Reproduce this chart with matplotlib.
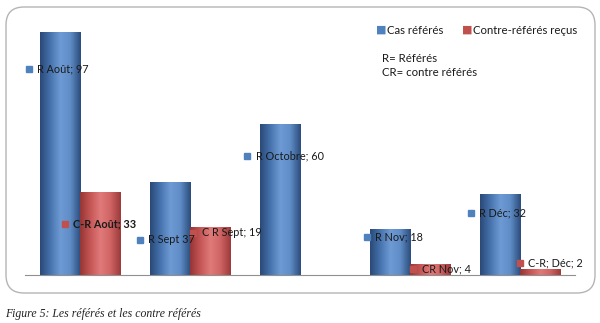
import matplotlib.pyplot as plt
import numpy as np
from matplotlib.colors import LinearSegmentedColormap
from matplotlib.patches import FancyBboxPatch

months = ["Août", "Sept", "Octobre", "Nov", "Déc"]
referes = [97, 37, 60, 18, 32]
contre_referes = [33, 19, 0, 4, 2]

ref_labels = ["R Août; 97", "R Sept 37", "R Octobre; 60", "R Nov; 18", "R Déc; 32"]
cr_labels = ["C-R Août; 33", "C R Sept; 19", "", "CR Nov; 4", "C-R; Déc; 2"]

blue = "#4f81bd"
red = "#c0504d"

plt.rcParams["font.family"] = ["Lato", "DejaVu Sans"]

fig = plt.figure(figsize=(6, 3.23), dpi=100)
ax = fig.add_axes([25 / 600, 1 - 275 / 323, 550 / 600, 250.5 / 323])

# cadre arrondi autour du graphique
box = FancyBboxPatch((6 / 600, 1 - 293 / 323), 589 / 600, 286 / 323,
                     boxstyle="round,pad=0,rounding_size=0.03",
                     transform=fig.transFigure, facecolor="none",
                     edgecolor="#b5b5b5", linewidth=1.0, mutation_aspect=600 / 323)
fig.patches.append(box)

x = np.arange(len(months))
width = 0.364

cmap_b = LinearSegmentedColormap.from_list(
    "b", ["#2a4a78", "#4673ad", "#6e9bd4", "#5f8cc6", "#2c4d7c"])
cmap_r = LinearSegmentedColormap.from_list(
    "r", ["#963636", "#c65656", "#e07a7a", "#d06464", "#9c3b3b"])
grad = np.linspace(0, 1, 64).reshape(1, -1)

bars_r = ax.bar(x - width / 2, referes, width, color=blue)
bars_c = ax.bar(x + width / 2, contre_referes, width, color=red)

# effet cylindre
for bars, cmap in [(bars_r, cmap_b), (bars_c, cmap_r)]:
    for b in bars:
        if b.get_height() <= 0:
            continue
        b.set_alpha(0)
        ax.imshow(grad, cmap=cmap, aspect="auto", interpolation="bicubic",
                  extent=(b.get_x(), b.get_x() + b.get_width(), 0, b.get_height()),
                  zorder=2)

ax.set_xlim(-0.5, len(months) - 0.5)
ax.set_ylim(0, 100)
for s in ["top", "right", "left"]:
    ax.spines[s].set_visible(False)
ax.spines["bottom"].set_color("#909090")
ax.set_xticks([])
ax.set_yticks([])

# étiquettes de données (position relative à chaque barre)
ref_off = [(-0.465, 82.2), (-0.455, 14.0), (-0.48, 47.5), (-0.39, 15.2), (-0.445, 24.8)]
cr_off = [(-0.14, 20.4), (0.03, 16.8), (0, 0), (0.03, 2.4), (0.0, 4.8)]
for i in range(len(months)):
    for lab, off, col, bold in [(ref_labels[i], ref_off[i], blue, False),
                                (cr_labels[i], cr_off[i], red, i == 0)]:
        if not lab:
            continue
        px, py = x[i] + off[0], off[1]
        ax.plot(px, py, marker="s", ms=5, color=col, mec=col, zorder=5, clip_on=False)
        ax.annotate(lab, (px, py), xytext=(6, 0), textcoords="offset points",
                    va="center", ha="left", fontsize=7.8, color="#1a1a1a",
                    fontweight="bold" if bold else "normal", zorder=6)

# légende
fig.text(381 / 600, 1 - 30 / 323, "■", color=blue, fontsize=8, va="center", ha="center",
         family=["DejaVu Sans"])
fig.text(387 / 600, 1 - 30 / 323, "Cas référés", fontsize=8.2, va="center", color="#1a1a1a")
fig.text(467 / 600, 1 - 30 / 323, "■", color=red, fontsize=8, va="center", ha="center",
         family=["DejaVu Sans"])
fig.text(473 / 600, 1 - 30 / 323, "Contre-référés reçus", fontsize=8.2, va="center",
         color="#1a1a1a")
fig.text(382 / 600, 1 - 58 / 323, "R= Référés", fontsize=8.2, va="center", color="#1a1a1a")
fig.text(382 / 600, 1 - 72 / 323, "CR= contre référés", fontsize=8.2, va="center",
         color="#1a1a1a")

fig.text(5 / 600, 1 - 314 / 323, "Figure 5: Les référés et les contre référés",
         fontsize=8.5, style="italic", family=["Liberation Serif"], va="center",
         color="#222222")

fig.savefig("out.png", dpi=100)
